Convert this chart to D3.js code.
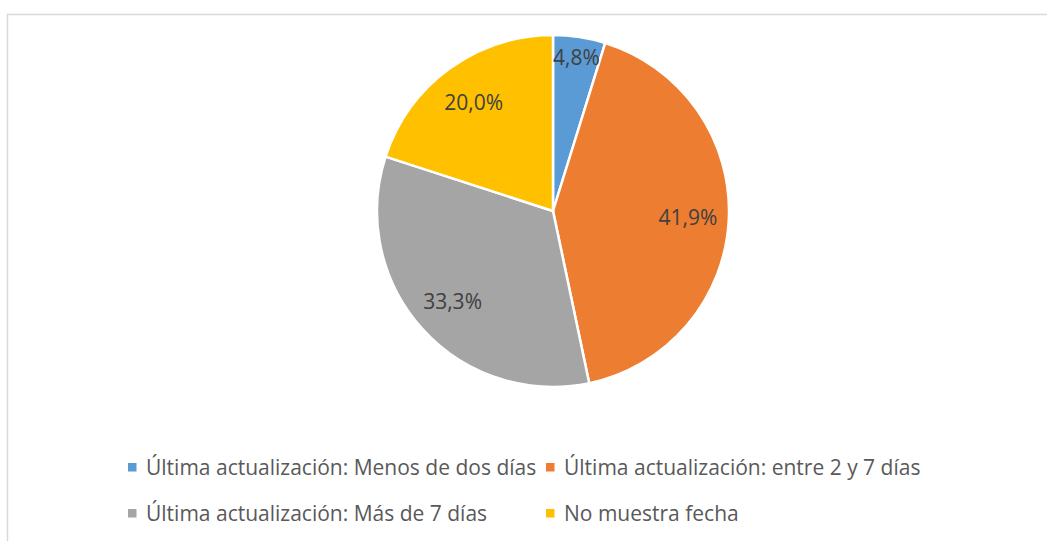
<!DOCTYPE html>
<html>
<head>
<meta charset="utf-8">
<script src="https://cdn.jsdelivr.net/npm/d3@7/dist/d3.min.js"></script>
<style>
  html, body { margin: 0; padding: 0; background: #fff; }
  svg { display: block; }
</style>
</head>
<body>
<div id="chart"></div>
<script>
// datos
var categories = [
    "Última actualización: Menos de dos días",
    "Última actualización: entre 2 y 7 días",
    "Última actualización: Más de 7 días",
    "No muestra fecha"
];
var values = [4.8, 41.9, 33.3, 20.0];
var colors = ["#5B9BD5", "#ED7D31", "#A5A5A5", "#FFC000"];

var width = 1047, height = 541;
var cx = 553, cy = 211, radius = 176;
var fontFamily = "'Open Sans', 'Noto Sans', sans-serif";

var svg = d3.select("#chart").append("svg")
    .attr("width", width)
    .attr("height", height);

// marco
svg.append("rect")
    .attr("x", 7.5)
    .attr("y", 14.5)
    .attr("width", 1060)
    .attr("height", 560)
    .attr("fill", "none")
    .attr("stroke", "#d9d9d9")
    .attr("stroke-width", 1.5);

var data = categories.map(function(c, i) {
    return { name: c, value: values[i], color: colors[i] };
});

var pie = d3.pie().sort(null).value(function(d) { return d.value; });
var arcs = pie(data);

var arc = d3.arc().innerRadius(0).outerRadius(radius);
var labelArc = d3.arc().innerRadius(135).outerRadius(135);
var smallLabelArc = d3.arc().innerRadius(156).outerRadius(156);

var body_g = svg.append("g")
    .attr("transform", "translate(" + cx + "," + cy + ")");

body_g.selectAll("path")
    .data(arcs)
    .enter()
    .append("path")
    .attr("d", arc)
    .attr("fill", function(d) { return d.data.color; })
    .attr("stroke", "#fff")
    .attr("stroke-width", 2.5)
    .attr("stroke-linejoin", "round");

body_g.selectAll("text")
    .data(arcs)
    .enter()
    .append("text")
    .attr("transform", function(d) {
        var c = d.data.value < 10 ? smallLabelArc.centroid(d) : labelArc.centroid(d);
        return "translate(" + c[0] + "," + c[1] + ")";
    })
    .attr("text-anchor", "middle")
    .attr("dominant-baseline", "central")
    .style("font-family", fontFamily)
    .style("font-size", "21px")
    .attr("fill", "#404040")
    .text(function(d) { return d.data.value.toFixed(1).replace(".", ",") + "%"; });

// leyenda
var legendCols = [128, 546];
var legendRows = [467, 513];
var legend_g = svg.append("g").attr("class", "legend");

var items = legend_g.selectAll("g")
    .data(data)
    .enter()
    .append("g")
    .attr("transform", function(d, i) {
        return "translate(" + legendCols[i % 2] + "," + legendRows[Math.floor(i / 2)] + ")";
    });

items.append("rect")
    .attr("x", 0)
    .attr("y", -4)
    .attr("width", 8.5)
    .attr("height", 8.5)
    .attr("fill", function(d) { return d.color; });

items.append("text")
    .attr("x", 18)
    .attr("y", 0)
    .attr("dominant-baseline", "central")
    .style("font-family", fontFamily)
    .style("font-size", "21px")
    .attr("fill", "#595959")
    .text(function(d) { return d.name; });
</script>
</body>
</html>
